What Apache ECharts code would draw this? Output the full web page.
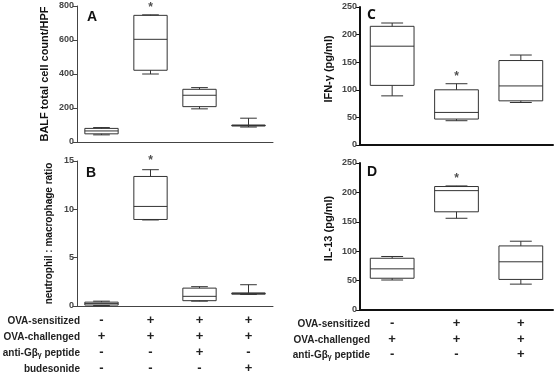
<!DOCTYPE html>
<html>
<head>
<meta charset="utf-8">
<script src="https://cdn.jsdelivr.net/npm/echarts@6/dist/echarts.min.js"></script>
<style>
  html, body { margin: 0; padding: 0; background: #fff; }
  #chart { width: 558px; height: 375px; }
</style>
</head>
<body>
<div id="chart"></div>
<script>
// box data per group: [min, q1, median, q3, max]
const groupsLeft = ['g1', 'g2', 'g3', 'g4'];
const groupsRight = ['g1', 'g2', 'g3'];

const balfBoxes = [
  [42, 48, 65, 80, 85],
  [400, 422, 604, 745, 748],
  [195, 208, 275, 310, 320],
  [88, 94, 97, 100, 140]
];
const ratioBoxes = [
  [0.05, 0.1, 0.25, 0.4, 0.5],
  [8.9, 8.95, 10.3, 13.4, 14.1],
  [0.5, 0.55, 1.0, 1.85, 2.0],
  [1.2, 1.22, 1.3, 1.35, 2.2]
];
const ifnBoxes = [
  [89, 108, 179, 215, 221],
  [44, 47, 59, 100, 111],
  [77, 80, 107, 153, 163]
];
const il13Boxes = [
  [51, 54, 70, 88, 91],
  [156, 167, 203, 210, 211],
  [44, 52, 82, 109, 117]
];

// significance marks: [groupIndex, value]
const balfStar = [[1, 790]];
const ratioStar = [[1, 15.0]];
const ifnStar = [[1, 123]];
const il13Star = [[1, 224]];

// treatment table rows
const rowNamesLeft = ['OVA-sensitized', 'OVA-challenged', 'anti-Gβ{s|γ} peptide', 'budesonide'];
const rowSignsLeft = [
  ['-', '+', '+', '+'],
  ['+', '+', '+', '+'],
  ['-', '-', '+', '-'],
  ['-', '-', '-', '+']
];
const rowNamesRight = ['OVA-sensitized', 'OVA-challenged', 'anti-Gβ{s|γ} peptide'];
const rowSignsRight = [
  ['-', '+', '+'],
  ['+', '+', '+'],
  ['-', '-', '+']
];

const chart = echarts.init(document.getElementById('chart'));

function renderBox(params, api) {
  const xi = api.value(0);
  const p = [1, 2, 3, 4, 5].map(i => api.coord([xi, api.value(i)]));
  const band = api.size([1, 0])[0];
  const bw = band * 0.68;
  const cw = bw / 2;
  const x = p[0][0];
  const st = { stroke: '#333', lineWidth: 1, fill: null };
  const line = (x1, y1, x2, y2) => ({ type: 'line', shape: { x1, y1, x2, y2 }, style: st });
  return {
    type: 'group',
    children: [
      { type: 'rect', shape: { x: x - bw / 2, y: p[3][1], width: bw, height: p[1][1] - p[3][1] },
        style: { stroke: '#333', lineWidth: 1, fill: '#fff' } },
      line(x - bw / 2, p[2][1], x + bw / 2, p[2][1]),
      line(x, p[3][1], x, p[4][1]),
      line(x, p[1][1], x, p[0][1]),
      line(x - cw / 2, p[4][1], x + cw / 2, p[4][1]),
      line(x - cw / 2, p[0][1], x + cw / 2, p[0][1])
    ]
  };
}

const grids = [
  { left: 77, top: 6, width: 196, height: 136 },
  { left: 77, top: 161, width: 196, height: 145 },
  { left: 360, top: 7, width: 193, height: 138 },
  { left: 360, top: 163, width: 193, height: 147 }
];

const axisColorL = '#444';
const axisColorR = '#111';

function mainX(gi, cats, color, width) {
  return {
    type: 'category', gridIndex: gi, data: cats, position: 'bottom',
    axisLine: { lineStyle: { color: color, width: width } },
    axisTick: { alignWithLabel: true, length: 4, lineStyle: { color: color, width: 1 } },
    axisLabel: { show: false },
    splitLine: { show: false }
  };
}

function rowX(gi, cats, name, offset, gap) {
  return {
    type: 'category', gridIndex: gi, data: cats, position: 'bottom', offset: offset,
    axisLine: { show: false }, axisTick: { show: false }, splitLine: { show: false },
    axisLabel: { margin: 0, interval: 0, fontSize: 13, fontWeight: 'bold', color: '#222',
      fontFamily: 'Liberation Sans' },
    name: name, nameLocation: 'start', nameGap: gap,
    nameTextStyle: { fontSize: 10, fontWeight: 'bold', color: '#222', fontFamily: 'Liberation Sans',
      verticalAlign: 'top', align: 'right', padding: [2, 0, 0, 0],
      rich: { s: { fontSize: 7, fontWeight: 'bold', color: '#222', padding: [4, 0, 0, 0] } } }
  };
}

function mainY(gi, max, interval, name, color, width, nameSize, gap, pad) {
  return {
    type: 'value', gridIndex: gi, min: 0, max: max, interval: interval,
    axisLine: { show: true, lineStyle: { color: color, width: width } },
    axisTick: { show: true, length: 4, lineStyle: { color: color, width: 1 } },
    axisLabel: { fontSize: 9, color: '#444', margin: 3, fontWeight: 'bold', fontFamily: 'Liberation Sans' },
    splitLine: { show: false },
    name: name, nameLocation: 'middle', nameGap: gap,
    nameTextStyle: { fontSize: nameSize, fontWeight: 'bold', color: '#111', fontFamily: 'Liberation Sans',
      padding: pad }
  };
}

const xAxes = [
  mainX(0, groupsLeft, axisColorL, 1),
  mainX(1, groupsLeft, axisColorL, 1),
  mainX(2, groupsRight, axisColorR, 2),
  mainX(3, groupsRight, axisColorR, 2)
];
const rowOffsetsLeft = [8, 24, 40, 56];
rowSignsLeft.forEach((r, i) => xAxes.push(rowX(1, r, rowNamesLeft[i], rowOffsetsLeft[i], -3)));
const rowOffsetsRight = [7, 23, 38];
rowSignsRight.forEach((r, i) => xAxes.push(rowX(3, r, rowNamesRight[i], rowOffsetsRight[i], -10)));

const yAxes = [
  mainY(0, 800, 200, 'BALF total cell count/HPF', axisColorL, 1, 11, 27, [0, 0, 0, 0]),
  mainY(1, 15, 5, 'neutrophil : macrophage ratio', axisColorL, 1, 10, 23, [0, 0, 0, 0]),
  mainY(2, 250, 50, 'IFN-γ (pg/ml)', axisColorR, 2, 11, 26, [0, 0, 0, 14]),
  mainY(3, 250, 50, 'IL-13 (pg/ml)', axisColorR, 2, 11, 26, [0, 0, 0, 16])
];

function boxSeries(idx, data) {
  return {
    type: 'custom', xAxisIndex: idx, yAxisIndex: idx,
    renderItem: renderBox,
    encode: { x: 0, y: [1, 2, 3, 4, 5] },
    data: data.map((d, i) => [i].concat(d)),
    silent: true
  };
}
function starSeries(idx, data) {
  return {
    type: 'scatter', xAxisIndex: idx, yAxisIndex: idx, symbolSize: 0,
    data: data,
    label: { show: true, position: 'inside', formatter: '*', fontSize: 12, fontWeight: 'bold', color: '#222' },
    silent: true
  };
}

const letters = [
  { t: 'A', x: 87, y: 10, f: 'Liberation Sans' },
  { t: 'B', x: 86, y: 166, f: 'Liberation Sans' },
  { t: 'C', x: 367, y: 8, f: 'Open Sans' },
  { t: 'D', x: 367, y: 165, f: 'Liberation Sans' }
];

chart.setOption({
  animation: false,
  grid: grids,
  xAxis: xAxes,
  yAxis: yAxes,
  series: [
    boxSeries(0, balfBoxes), boxSeries(1, ratioBoxes), boxSeries(2, ifnBoxes), boxSeries(3, il13Boxes),
    starSeries(0, balfStar), starSeries(1, ratioStar), starSeries(2, ifnStar), starSeries(3, il13Star)
  ],
  graphic: letters.map(l => ({
    type: 'text', left: l.x, top: l.y,
    style: { text: l.t, fontSize: 14, fontWeight: 'bold', fill: '#111', fontFamily: l.f }
  }))
});
</script>
</body>
</html>
